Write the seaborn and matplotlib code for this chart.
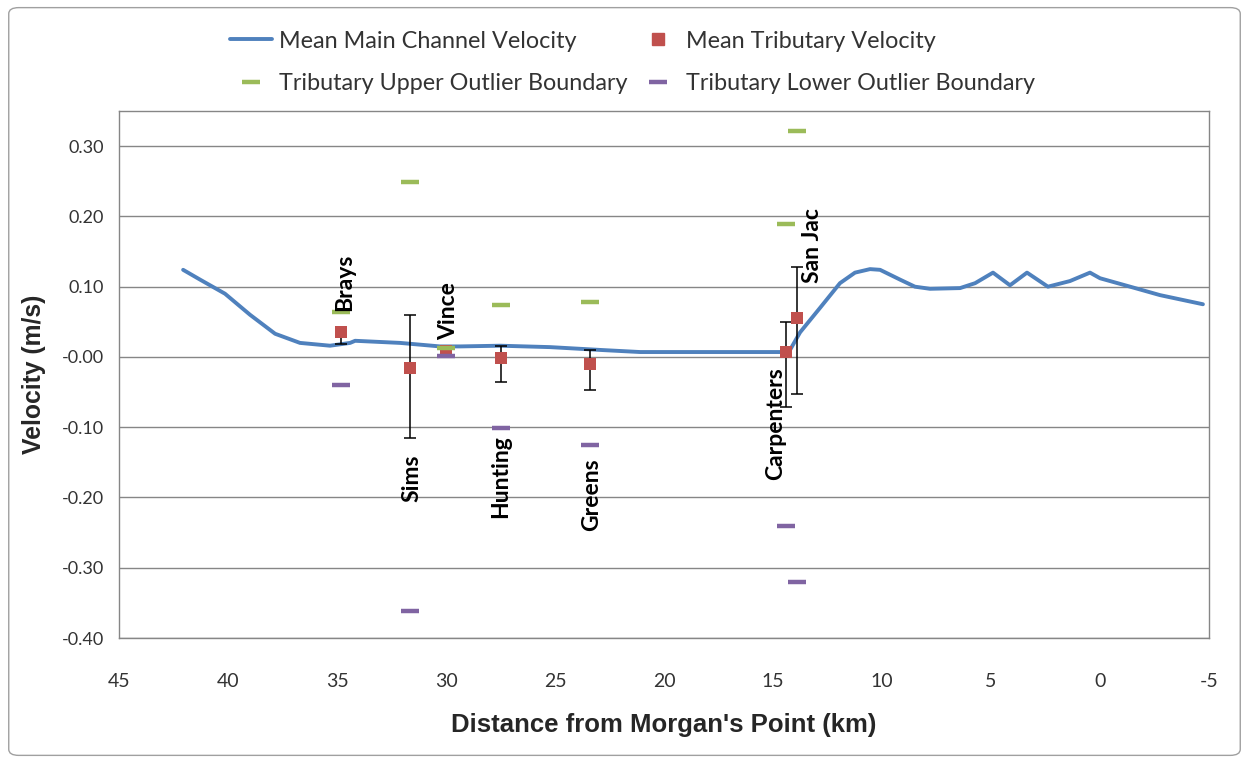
import seaborn as sns
from matplotlib import pyplot as plt
from matplotlib.lines import Line2D
from matplotlib.patches import FancyBboxPatch
import pandas as pd
import numpy as np

# main channel velocity along the channel (km from Morgan's Point, m/s)
channel_km = [42.06, 41.28, 40.14, 38.99, 37.84, 36.70, 35.32, 34.40, 34.17, 33.49,
              32.11, 30.28, 29.36, 27.52, 25.23, 22.94, 21.10, 18.35, 14.68, 14.22,
              13.76, 12.84, 11.93, 11.24, 10.55, 10.09, 9.17, 8.49, 7.80, 6.42,
              5.73, 4.91, 4.13, 3.35, 2.39, 1.38, 0.46, 0.0, -1.38, -2.75, -4.72]
channel_vel = [0.124, 0.110, 0.090, 0.060, 0.033, 0.020, 0.016, 0.020, 0.023, 0.022,
               0.020, 0.015, 0.015, 0.016, 0.014, 0.010, 0.007, 0.007, 0.007, 0.010,
               0.035, 0.070, 0.105, 0.120, 0.125, 0.124, 0.110, 0.100, 0.097, 0.098,
               0.105, 0.120, 0.102, 0.120, 0.100, 0.108, 0.120, 0.112, 0.100, 0.088, 0.075]

# tributaries
tribs = ['Brays', 'Sims', 'Vince', 'Hunting', 'Greens', 'Carpenters', 'San Jac']
trib_km = [34.8, 31.65, 30.0, 27.5, 23.4, 14.4, 13.9]
trib_mean = [0.036, -0.016, 0.008, -0.002, -0.010, 0.007, 0.055]
err_low = [0.018, 0.099, 0.0, 0.033, 0.037, 0.078, 0.108]
err_high = [0.004, 0.076, 0.0, 0.018, 0.020, 0.043, 0.073]
upper_out = [0.064, 0.249, 0.013, 0.074, 0.078, 0.189, 0.322]
lower_out = [-0.040, -0.361, 0.002, -0.101, -0.125, -0.240, -0.320]

# label placement (x km, y value, anchor)
label_km = [34.63, 31.56, 29.86, 27.48, 23.3, 14.86, 13.17]
label_y = [0.065, -0.139, 0.024, -0.111, -0.144, -0.014, 0.105]
label_va = ['bottom', 'top', 'bottom', 'top', 'top', 'top', 'bottom']

blue = '#4F81BD'
red = '#C0504D'
green = '#9BBB59'
purple = '#8064A2'
gray = '#868686'

sns.set_style('white')
plt.rcParams['font.family'] = ['Lato', 'DejaVu Sans']
plt.rcParams['axes.unicode_minus'] = False

fig = plt.figure(figsize=(12.49, 7.63), dpi=100)
ax = fig.add_axes([0.0953, 0.1638, 0.8727, 0.6907])

line_df = pd.DataFrame({'km': channel_km, 'vel': channel_vel})
sns.lineplot(data=line_df, x='km', y='vel', sort=False, color=blue, linewidth=2.8, ax=ax, zorder=3)

ax.errorbar(trib_km, trib_mean, yerr=[err_low, err_high], fmt='none', ecolor='black',
            elinewidth=1.1, capsize=4.5, capthick=1.1, zorder=4)
trib_df = pd.DataFrame({'km': trib_km, 'vel': trib_mean})
sns.scatterplot(data=trib_df, x='km', y='vel', marker='s', s=80, color=red, edgecolor=red,
                linewidth=0, ax=ax, zorder=5)
ax.plot(trib_km, upper_out, ls='none', marker='_', markersize=13, mew=3.2, color=green, zorder=5)
ax.plot(trib_km, lower_out, ls='none', marker='_', markersize=13, mew=3.2, color=purple, zorder=5)

for name, xk, yk, va in zip(tribs, label_km, label_y, label_va):
    ax.text(xk, yk, name, rotation=90, ha='center', va=va, fontsize=16.5,
            fontweight='bold', color='black', zorder=6)

ax.set_xlim(45, -5)
ax.set_ylim(-0.40, 0.35)
ax.set_xticks(np.arange(45, -6, -5))
ax.set_yticks(np.arange(-0.4, 0.31, 0.1))
ax.set_yticklabels(['%.2f' % v for v in np.arange(-0.4, 0.31, 0.1)])
ax.yaxis.grid(True, color=gray, linewidth=1.0)
ax.set_axisbelow(True)
for s in ax.spines.values():
    s.set_color(gray)
    s.set_linewidth(1.0)
ax.tick_params(axis='both', direction='out', length=5, width=1, color=gray)
ax.tick_params(axis='x', labelsize=14, pad=20)
ax.tick_params(axis='y', labelsize=13, pad=6)
for t in ax.get_xticklabels() + ax.get_yticklabels():
    t.set_color('#333333')

ax.set_xlabel("Distance from Morgan's Point (km)", fontsize=18.5, fontweight='bold',
              family='Liberation Sans', labelpad=17)
ax.set_ylabel('Velocity (m/s)', fontsize=17.8, fontweight='bold',
              family='Liberation Sans', labelpad=11)

handles = [
    Line2D([], [], color=blue, linewidth=2.8),
    Line2D([], [], ls='none', marker='_', markersize=13, mew=3.2, color=green),
    Line2D([], [], ls='none', marker='s', markersize=8, color=red),
    Line2D([], [], ls='none', marker='_', markersize=13, mew=3.2, color=purple),
]
labels = ['Mean Main Channel Velocity', 'Tributary Upper Outlier Boundary',
          'Mean Tributary Velocity', 'Tributary Lower Outlier Boundary']
leg = fig.legend(handles, labels, loc='upper left', bbox_to_anchor=(0.184, 0.96), ncol=2,
                 frameon=False, fontsize=16.8, labelspacing=0.92, columnspacing=0.4,
                 handlelength=1.8, handletextpad=0.3, borderpad=0, borderaxespad=0)
for t in leg.get_texts():
    t.set_color('#333333')

fig.patches.append(FancyBboxPatch((0.007, 0.01), 0.986, 0.98, boxstyle='round,pad=0,rounding_size=0.008',
                                  transform=fig.transFigure, fill=False, edgecolor='#a0a0a0', linewidth=1.0))

fig.savefig('out.png', dpi=100)
